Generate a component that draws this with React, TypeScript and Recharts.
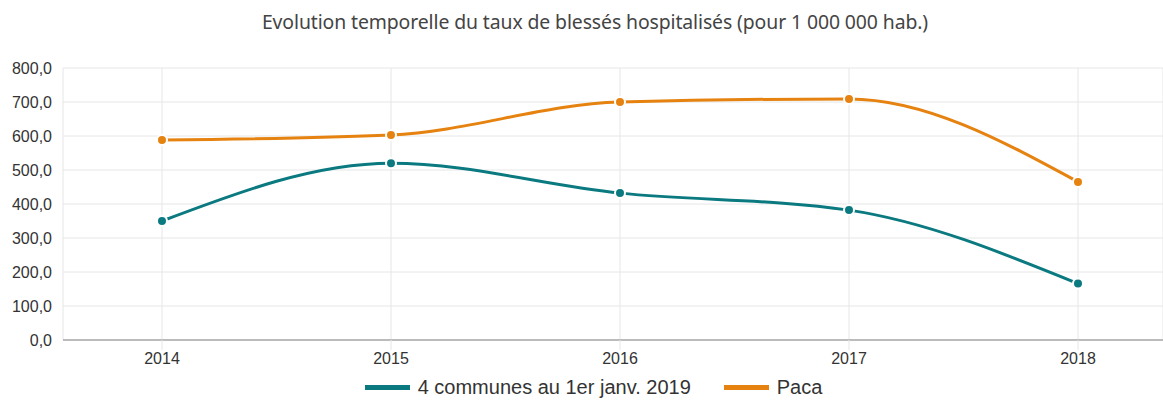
import React from "react";
import {
  LineChart,
  Line,
  XAxis,
  YAxis,
  CartesianGrid,
  Legend,
} from "recharts";

const years = ["2014", "2015", "2016", "2017", "2018"];
const communes = [350, 520, 432, 382, 166];
const paca = [588, 603, 700, 709, 465];
const yTicks = [0, 100, 200, 300, 400, 500, 600, 700, 800];

const data = years.map((year, i) => ({
  year,
  communes: communes[i],
  paca: paca[i],
}));

const TEAL = "#0b7a80";
const ORANGE = "#e6820f";
const tickFont = "'Liberation Sans', Arial, sans-serif";

const fmt = (v: number) => v.toFixed(1).replace(".", ",");

function LegendBox() {
  const items = [
    { label: "4 communes au 1er janv. 2019", color: TEAL },
    { label: "Paca", color: ORANGE },
  ];
  return (
    <div
      style={{
        display: "flex",
        justifyContent: "center",
        gap: 33,
        fontFamily: tickFont,
        fontSize: 20,
        lineHeight: "22px",
        color: "#333",
        marginLeft: 24,
      }}
    >
      {items.map((it) => (
        <div key={it.label} style={{ display: "flex", alignItems: "center" }}>
          <span
            style={{
              display: "inline-block",
              width: 45,
              height: 5,
              background: it.color,
              marginRight: 8,
            }}
          />
          {it.label}
        </div>
      ))}
    </div>
  );
}

export default function App() {
  return (
    <div
      style={{
        position: "absolute",
        left: 0,
        top: 0,
        width: 1163,
        height: 400,
        background: "#fff",
      }}
    >
      <div
        style={{
          position: "absolute",
          top: 8,
          left: 0,
          width: 1190,
          textAlign: "center",
          fontFamily: "'Noto Sans', sans-serif",
          fontSize: 19.4,
          color: "#444",
          letterSpacing: -0.1,
        }}
      >
        Evolution temporelle du taux de blessés hospitalisés (pour 1 000 000 hab.)
      </div>
      <LineChart
        width={1163}
        height={400}
        data={data}
        margin={{ top: 68, right: 0, bottom: 0, left: 0 }}
      >
        <CartesianGrid stroke="#e6e6e6" vertical={true} />
        <XAxis
          dataKey="year"
          padding={{ left: 99, right: 85 }}
          axisLine={{ stroke: "#bbbbbb", strokeWidth: 2 }}
          tickLine={{ stroke: "#e6e6e6" }}
          tickSize={10}
          tickMargin={3}
          tick={{ fill: "#333", fontSize: 16, fontFamily: tickFont }}
          height={36}
        />
        <YAxis
          width={63}
          domain={[0, 800]}
          ticks={yTicks}
          tickFormatter={fmt}
          axisLine={false}
          tickLine={false}
          tickMargin={5}
          tick={{ fill: "#333", fontSize: 16, fontFamily: tickFont }}
        />
        <Legend
          verticalAlign="bottom"
          height={24}
          content={() => <LegendBox />}
          wrapperStyle={{ bottom: 0 }}
        />
        <Line
          type="monotone"
          dataKey="communes"
          stroke={TEAL}
          strokeWidth={3}
          dot={{ r: 5, fill: TEAL, stroke: "#fff", strokeWidth: 2 }}
          isAnimationActive={false}
        />
        <Line
          type="monotone"
          dataKey="paca"
          stroke={ORANGE}
          strokeWidth={3}
          dot={{ r: 5, fill: ORANGE, stroke: "#fff", strokeWidth: 2 }}
          isAnimationActive={false}
        />
      </LineChart>
    </div>
  );
}
